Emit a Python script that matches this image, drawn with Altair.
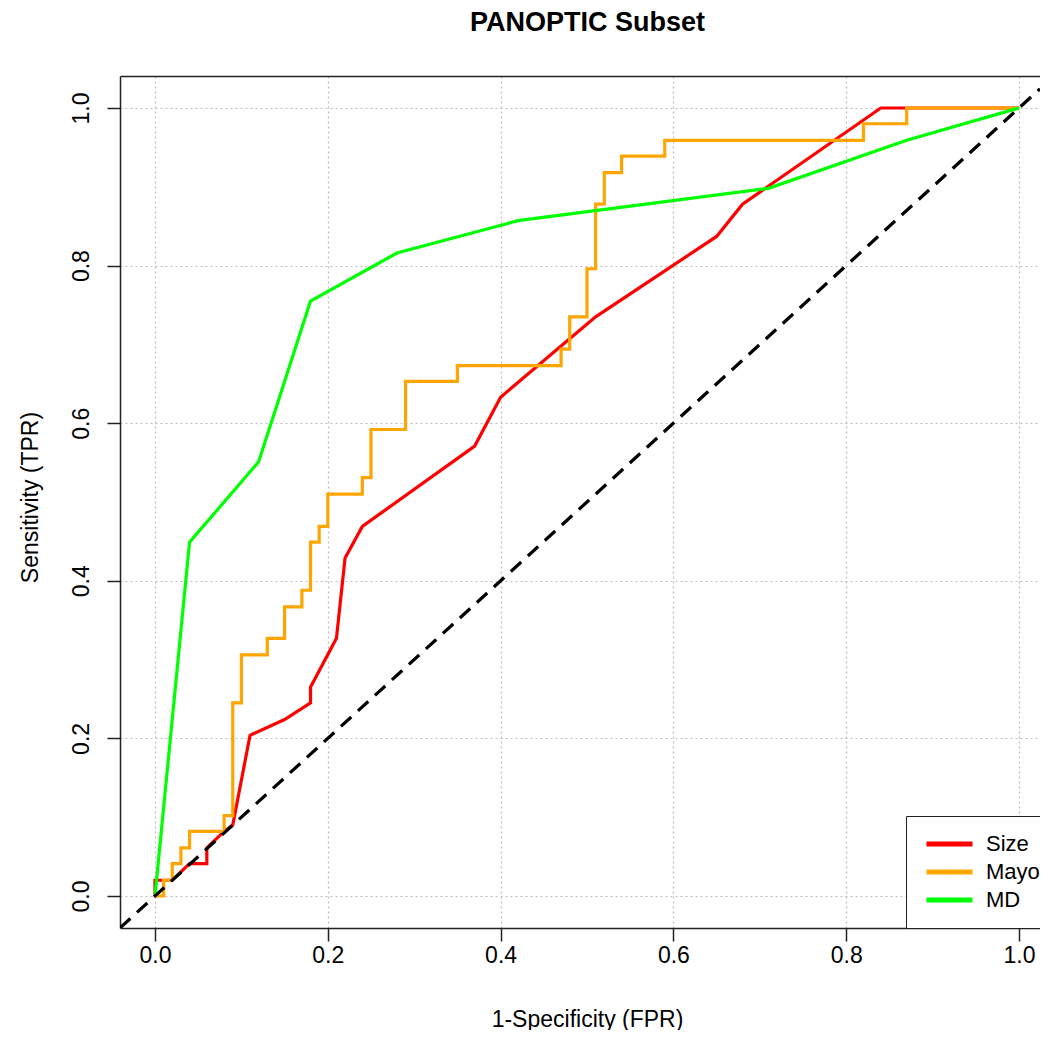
import altair as alt
import pandas as pd

# ---- data ----
series_names = ["Size", "Mayo", "MD"]
series_colors = ["#FF0000", "#FFA500", "#00FF00"]

size_fpr = [0.0, 0.0, 0.02, 0.04, 0.06, 0.06, 0.08, 0.09, 0.11, 0.15, 0.18, 0.18,
            0.21, 0.22, 0.24, 0.37, 0.40, 0.51, 0.65, 0.68, 0.84, 1.0]
size_tpr = [0.0, 0.020, 0.020, 0.041, 0.041, 0.061, 0.082, 0.090, 0.204, 0.224, 0.245, 0.265,
            0.327, 0.429, 0.469, 0.571, 0.633, 0.735, 0.837, 0.878, 1.0, 1.0]

# Mayo is a step curve (corner points, drawn with step-after)
mayo_fpr = [0.0, 0.01, 0.02, 0.03, 0.04, 0.08, 0.09, 0.10, 0.13, 0.15, 0.17, 0.18, 0.19,
            0.20, 0.24, 0.25, 0.29, 0.35, 0.47, 0.48, 0.50, 0.51, 0.52, 0.54, 0.59, 0.82,
            0.87, 1.0]
mayo_tpr = [0.0, 0.020, 0.041, 0.061, 0.082, 0.102, 0.245, 0.306, 0.327, 0.367, 0.388, 0.449,
            0.469, 0.510, 0.531, 0.592, 0.653, 0.673, 0.694, 0.735, 0.796, 0.878, 0.918,
            0.939, 0.959, 0.980, 1.0, 1.0]

md_fpr = [0.0, 0.04, 0.12, 0.18, 0.28, 0.42, 0.71, 0.87, 1.0]
md_tpr = [0.0, 0.449, 0.551, 0.755, 0.816, 0.857, 0.898, 0.959, 1.0]

X_DOMAIN = [-0.0405, 1.0243]
Y_DOMAIN = [-0.0406, 1.0406]
diag_vals = [-0.0405, 1.0243]
tick_vals = [0.0, 0.2, 0.4, 0.6, 0.8, 1.0]

TITLE = "PANOPTIC Subset"
FONT = "Liberation Sans"
FS = 23


def frame(name, fpr, tpr):
    return pd.DataFrame({"fpr": fpr, "tpr": tpr, "series": name,
                         "order": list(range(len(fpr)))})


xscale = alt.Scale(domain=X_DOMAIN, nice=False, zero=False)
yscale = alt.Scale(domain=Y_DOMAIN, nice=False, zero=False)

color = alt.Color(
    "series:N",
    scale=alt.Scale(domain=series_names, range=series_colors),
    legend=alt.Legend(
        title=None, orient="none", legendX=786, legendY=740,
        symbolType="stroke", symbolSize=2116, symbolStrokeWidth=5, symbolOffset=4,
        clipHeight=28, rowPadding=0, padding=14,
        labelFont=FONT, labelFontSize=22, labelColor="black", labelOffset=11,
        strokeColor="#222", fillColor="white", cornerRadius=0, labelLimit=0,
    ),
)

x_bottom = alt.Axis(
    orient="bottom", values=tick_vals, format=".1f", title="1-Specificity (FPR)",
    grid=True, gridColor="#bdbdbd", gridDash=[2, 3], gridWidth=1.2,
    domainColor="#222", domainWidth=1.5, tickColor="#222", tickWidth=1.5, tickSize=13,
    labelPadding=21, labelBaseline="alphabetic", labelFlush=False, labelOverlap=False,
    titleX=467, titleY=98, titleAlign="center", titleBaseline="alphabetic",
)
# top frame line; it also carries the chart's main title
x_top = alt.Axis(
    orient="top", labels=False, ticks=False, grid=False, title=TITLE,
    domainColor="#222", domainWidth=1.5,
    titleFontSize=27, titleFontWeight="bold", titleX=467, titleY=-46,
    titleAlign="center", titleBaseline="alphabetic",
)
y_left = alt.Axis(
    orient="left", values=tick_vals, format=".1f", title="Sensitivity (TPR)",
    grid=True, gridColor="#bdbdbd", gridDash=[2, 3], gridWidth=1.2,
    domainColor="#222", domainWidth=1.5, tickColor="#222", tickWidth=1.5, tickSize=13,
    labelAngle=270, labelAlign="center", labelBaseline="alphabetic", labelPadding=19,
    labelFlush=False, labelOverlap=False,
    titleAngle=270, titleX=-83, titleY=421, titleAlign="center", titleBaseline="alphabetic",
)


def curve(df, interp, xaxis, yaxis):
    return alt.Chart(df).mark_line(strokeWidth=3.2, interpolate=interp, clip=True).encode(
        x=alt.X("fpr:Q", scale=xscale, axis=xaxis),
        y=alt.Y("tpr:Q", scale=yscale, axis=yaxis),
        color=color,
        order="order:Q",
    )


size_layer = curve(frame("Size", size_fpr, size_tpr), "linear", x_bottom, y_left)
mayo_layer = curve(frame("Mayo", mayo_fpr, mayo_tpr), "step-after", None, None)
md_layer = curve(frame("MD", md_fpr, md_tpr), "linear", None, None)

diag_layer = alt.Chart(pd.DataFrame({"v": diag_vals})).mark_line(
    color="black", strokeWidth=3.2, strokeDash=[14, 9], clip=True
).encode(
    x=alt.X("v:Q", scale=xscale, axis=x_top),
    y=alt.Y("v:Q", scale=yscale, axis=None),
)

chart = alt.layer(size_layer, mayo_layer, md_layer, diag_layer).resolve_axis(
    x="independent", y="independent"
).properties(
    width=920, height=852,
    padding={"left": 112, "top": 68, "right": 0, "bottom": 102},
    autosize=alt.AutoSizeParams(type="none"),
).configure_axis(
    labelFont=FONT, titleFont=FONT, labelFontSize=FS, titleFontSize=FS,
    labelColor="black", titleColor="black", titleFontWeight="normal",
).configure_view(strokeWidth=0)

chart.save("out.html", embed_options={"renderer": "svg", "actions": False})
